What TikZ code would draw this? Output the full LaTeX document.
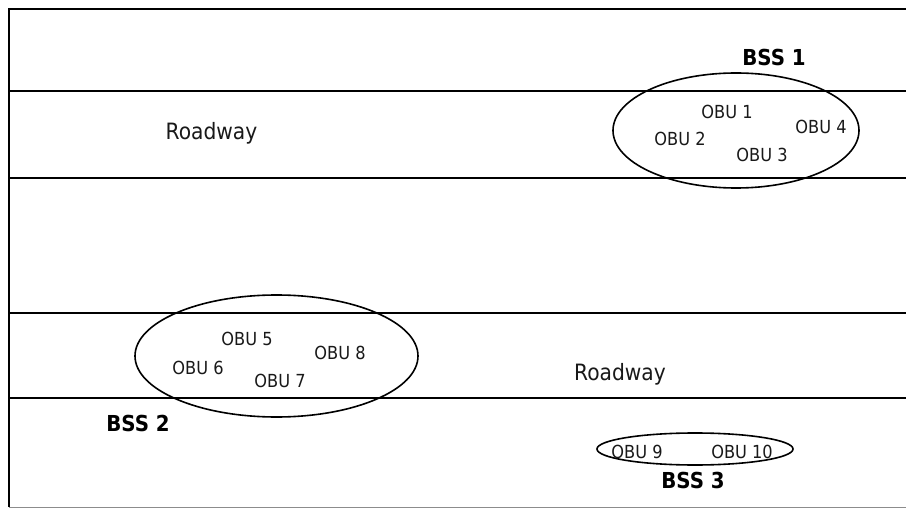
\documentclass[tikz,border=0pt]{standalone}
\usepackage{fontspec}
\setmainfont{DejaVu Sans Condensed}
\usetikzlibrary{shapes.geometric}
\tikzset{
  road/.style={line width=1.8pt, black},
  zone/.style={draw, ellipse, line width=1.6pt, inner sep=0pt},
  obu/.style={anchor=base, font=\fontsize{18}{21}\selectfont, text=black!90},
  bss/.style={anchor=base, font=\fontsize{22}{26}\selectfont\bfseries},
  roadlbl/.style={anchor=base, font=\fontsize{22.5}{26}\selectfont, text=black!90}
}
\begin{document}
\begin{tikzpicture}[x=1pt,y=-1pt]
\useasboundingbox (0,0) rectangle (906,508);
% frame
\coordinate (tl) at (9,9);
\coordinate (tr) at (906,9);
\coordinate (bl) at (9,507);
\coordinate (br) at (906,507);
\draw[road] (tr) -- (tl) -- (bl);
\draw[line width=0.9pt, black!45] (bl) -- (br);
% road edges
\foreach \y/\n in {91/a,178/b,313/c,398/d}{
  \coordinate (l\n) at (9,\y);
  \coordinate (r\n) at (906,\y);
  \draw[road] (l\n) -- (r\n);
}
% zones
\node[zone, minimum width=246pt, minimum height=115pt] (e1) at (736,130.5) {};
\node[zone, minimum width=283pt, minimum height=122pt] (e2) at (276.5,356) {};
\node[zone, minimum width=196pt, minimum height=32pt] (e3) at (695,449) {};
% labels
\node[roadlbl] (r1) at (211.5,140) {Roadway};
\node[roadlbl] (r2) at (620,380) {Roadway};
\node[bss] (b1) at (774,66) {BSS 1};
\node[bss] (b2) at (138,431) {BSS 2};
\node[bss] (b3) at (693,488) {BSS 3};
\node[obu] (o1) at (727,118.5) {OBU 1};
\node[obu] (o2) at (680,145.5) {OBU 2};
\node[obu] (o3) at (762,161.5) {OBU 3};
\node[obu] (o4) at (821,133.5) {OBU 4};
\node[obu] (o5) at (247,345.5) {OBU 5};
\node[obu] (o6) at (198,374.5) {OBU 6};
\node[obu] (o7) at (280,387.5) {OBU 7};
\node[obu] (o8) at (340,359.5) {OBU 8};
\node[obu] (o9) at (637,458.5) {OBU 9};
\node[obu] (o10) at (742,458.5) {OBU 10};
\end{tikzpicture}
\end{document}
